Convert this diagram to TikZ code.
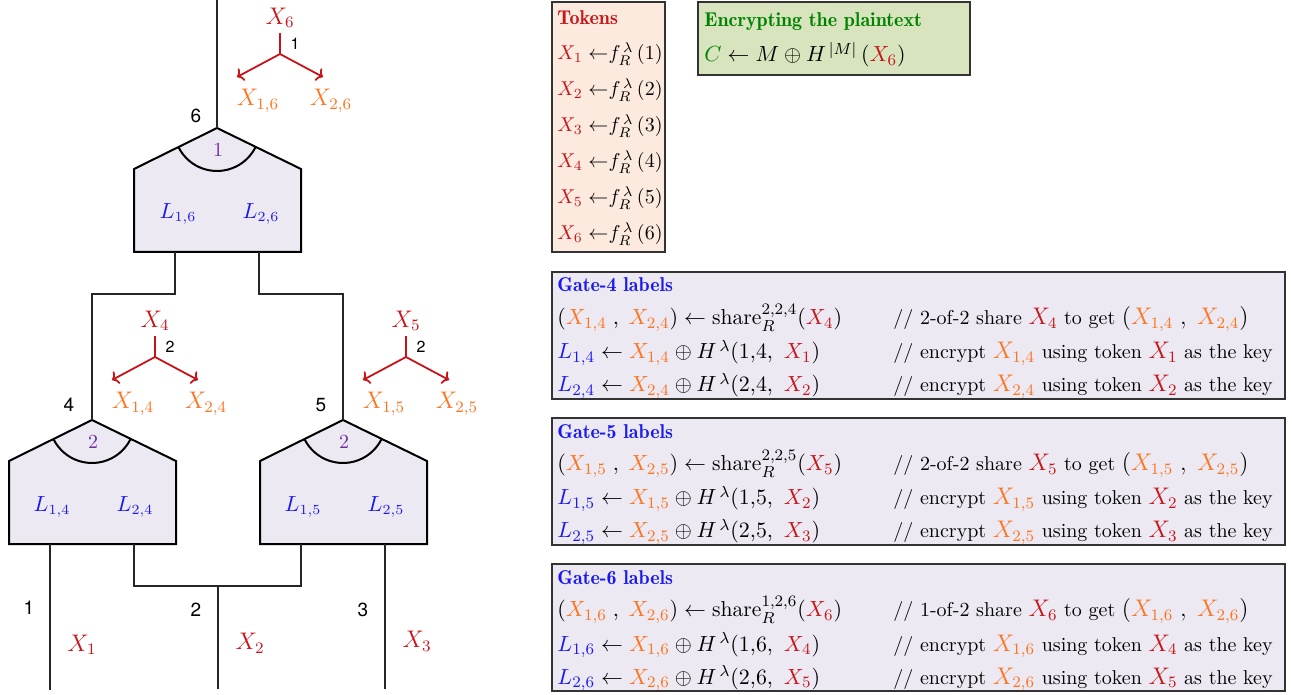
\documentclass[tikz,border=0pt]{standalone}
\usepackage{fontspec}
\newfontfamily\hv{TeX Gyre Heros}
\newfontfamily\lmdemi{lmromandemi10-regular.otf}
\usetikzlibrary{calc,arrows.meta}
\definecolor{xred}{RGB}{200,20,25}
\definecolor{xorange}{RGB}{255,115,30}
\definecolor{xblue}{RGB}{25,25,240}
\definecolor{xpurple}{RGB}{112,48,160}
\definecolor{xgreen}{RGB}{0,130,0}
\definecolor{gatefill}{RGB}{236,233,242}
\definecolor{tokfill}{RGB}{252,234,222}
\definecolor{encfill}{RGB}{215,228,189}
\newcommand{\colR}[1]{{\color{xred}#1}}
\newcommand{\colO}[1]{{\color{xorange}#1}}
\newcommand{\colB}[1]{{\color{xblue}#1}}
\newcommand{\colG}[1]{{\color{xgreen}#1}}
\newcommand{\mbig}[1]{{\fontsize{11.5}{13}\selectfont$#1$}}
\tikzset{
  wire/.style={line width=0.6pt, draw=black!85},
  gateshape/.style={line width=1pt, draw=black, fill=gatefill},
  gatearc/.style={line width=1pt, draw=black},
  splitarrow/.style={draw=xred, line width=0.9pt, -{To[length=3pt,width=7pt]}},
  splitstem/.style={draw=xred, line width=0.9pt},
  num/.style={font=\hv\fontsize{9.5}{11}\selectfont, inner sep=0pt},
  smallnum/.style={font=\hv\footnotesize, inner sep=0pt},
  lbl/.style={inner sep=0pt},
  biglbl/.style={inner sep=0pt, font=\fontsize{12}{14}\selectfont},
  glbl/.style={inner sep=0pt, font=\fontsize{10.5}{12}\selectfont, text=xblue},
  box/.style={draw=black!80, line width=0.6pt, anchor=north west, inner sep=0pt, outer sep=0pt},
  row/.style={anchor=base west, inner sep=0pt},
  lrow/.style={anchor=base west, inner sep=0pt, font=\fontsize{10.8}{13}\selectfont},
  title/.style={anchor=base west, inner sep=0pt, font=\lmdemi},
}
\newcommand{\drawgate}[4]{% name, x, y, number
  \coordinate (#1) at (#2,#3);
  \path[gateshape] (#1) -- ++(-83,41) -- ++(0,83) -- ++(167,0) -- ++(0,-83) -- cycle;
  \draw[gatearc] ([shift={(206.57:21.5pt)}]#1) arc[start angle=206.57, end angle=333.43, radius=21.5pt];
  \node[lbl, text=xpurple] (#1num) at ($(#1)+(1,22)$) {$#4$};
  \coordinate (#1L) at ($(#1)+(-42,124)$);
  \coordinate (#1R) at ($(#1)+(42,124)$);
}
\newcommand{\drawsplit}[7]{% name, x, y, X, number, X1, X2
  \coordinate (#1) at (#2,#3);
  \coordinate (#1t) at ($(#1)+(0,-21)$);
  \coordinate (#1a) at ($(#1)+(-43,23)$);
  \coordinate (#1b) at ($(#1)+(43,23)$);
  \draw[splitstem] (#1t) -- (#1);
  \draw[splitarrow] (#1) -- (#1a);
  \draw[splitarrow] (#1) -- (#1b);
  \node[biglbl] (#1X) at ($(#1)+(0,-36)$) {$\colR{#4}$};
  \node[smallnum] (#1n) at ($(#1)+(15,-10)$) {#5};
  \node[biglbl] (#1x1) at ($(#1)+(-22,47)$) {$\colO{#6}$};
  \node[biglbl] (#1x2) at ($(#1)+(51,47)$) {$\colO{#7}$};
}
\begin{document}
\begin{tikzpicture}[x=0.5pt,y=-0.5pt]
\useasboundingbox (0,0) rectangle (1292,695);

% ---------- gates ----------
\drawgate{g6}{217}{128}{1}
\drawgate{g4}{92}{420}{2}
\drawgate{g5}{343}{420}{2}

\node[glbl] (l16) at ($(g6)+(-39,86)$) {$L_{1,6}$};
\node[glbl] (l26) at ($(g6)+(44,86)$) {$L_{2,6}$};
\node[glbl] (l14) at ($(g4)+(-40,87)$) {$L_{1,4}$};
\node[glbl] (l24) at ($(g4)+(43,87)$) {$L_{2,4}$};
\node[glbl] (l15) at ($(g5)+(-40,87)$) {$L_{1,5}$};
\node[glbl] (l25) at ($(g5)+(43,87)$) {$L_{2,5}$};

\node[num] (n6) at ($(g6)+(-21,-12)$) {6};
\node[num] (n4) at ($(g4)+(-23,-15)$) {4};
\node[num] (n5) at ($(g5)+(-22,-15)$) {5};

% ---------- wires ----------
\coordinate (top) at (217,0);
\draw[wire] (g6) -- (top);
\draw[wire] (g6L) -- ++(0,42) -| (g4);
\draw[wire] (g6R) -- ++(0,42) -| (g5);
\coordinate (in1) at (50,690);
\coordinate (in2) at (218,689);
\coordinate (in3) at (385,689);
\coordinate (mid) at (218,586);
\draw[wire] (g4L) -- (in1);
\draw[wire] (g4R) |- (mid) -| (g5L);
\draw[wire] (mid) -- (in2);
\draw[wire] (g5R) -- (in3);

\node[num] (w1) at (29,608) {1};
\node[num] (w2) at (196,610) {2};
\node[num] (w3) at (363,610) {3};
\node[lbl, font=\fontsize{11.5}{13}\selectfont] (x1) at (82,645) {$\colR{X_1}$};
\node[lbl, font=\fontsize{11.5}{13}\selectfont] (x2) at (250,643) {$\colR{X_2}$};
\node[lbl, font=\fontsize{11.5}{13}\selectfont] (x3) at (417,641) {$\colR{X_3}$};

% ---------- splitters ----------
\drawsplit{s6}{280}{54}{X_6}{1}{X_{1,6}}{X_{2,6}}
\drawsplit{s4}{155}{357}{X_4}{2}{X_{1,4}}{X_{2,4}}
\drawsplit{s5}{406}{357}{X_5}{2}{X_{1,5}}{X_{2,5}}

% ---------- tokens box ----------
\node[box, fill=tokfill, minimum width=56.5pt, minimum height=125pt] (tok) at (552,2) {};
\node[title, text=xred] (toktitle) at (557,25) {Tokens};
\foreach \i/\yy in {1/60,2/96,3/132,4/168,5/204,6/240}{
  \node[row] (tok\i) at (557,\yy) {\smash{$\colR{X_\i}\;{\leftarrow}f_R^{\,\lambda}\,(\i)$}};
}

% ---------- encrypting box ----------
\node[box, fill=encfill, minimum width=136pt, minimum height=36.5pt] (enc) at (698,2) {};
\node[title, text=xgreen] (enctitle) at (704,27) {Encrypting the plaintext};
\node[lrow, font=\fontsize{11.2}{13}\selectfont] (encrow) at (704,62) {$\colG{C} \leftarrow M \oplus H^{\,|M|}\,(\colR{X_6})$};

% ---------- gate label boxes ----------
\newcommand{\gatebox}[7]{% name, ytop, gate, t, share sup, left token, right token
  \node[box, fill=gatefill, minimum width=366.5pt, minimum height=63.5pt] (#1) at (552,#2) {};
  \node[title, text=xblue] (#1t) at (557,#2+20) {Gate-#3 labels};
  \node[lrow] (#1r1) at (557,#2+53) {$(\colO{X_{1,#3}}\;,\;\colO{X_{2,#3}}) \leftarrow \mathrm{share}_R^{#5}(\colR{X_{#3}})$};
  \node[lrow] (#1r2) at (557,#2+87) {$\colB{L_{1,#3}} \leftarrow \colO{X_{1,#3}} \oplus H^{\,\lambda}(1{,}#3,\ \colR{X_{#6}})$};
  \node[lrow] (#1r3) at (557,#2+120) {$\colB{L_{2,#3}} \leftarrow \colO{X_{2,#3}} \oplus H^{\,\lambda}(2{,}#3,\ \colR{X_{#7}})$};
  \node[row] (#1c1) at (893,#2+53) {// #4-of-2 share \mbig{\colR{X_{#3}}} to get \mbig{(\colO{X_{1,#3}}\;,\;\colO{X_{2,#3}})}};
  \node[row] (#1c2) at (893,#2+87) {// encrypt \mbig{\colO{X_{1,#3}}} using token \mbig{\colR{X_{#6}}} as the key};
  \node[row] (#1c3) at (893,#2+120) {// encrypt \mbig{\colO{X_{2,#3}}} using token \mbig{\colR{X_{#7}}} as the key};
}
\gatebox{gb4}{272}{4}{2}{2,2,4}{1}{2}
\gatebox{gb5}{418}{5}{2}{2,2,5}{2}{3}
\gatebox{gb6}{564}{6}{1}{1,2,6}{4}{5}
\end{tikzpicture}
\end{document}
